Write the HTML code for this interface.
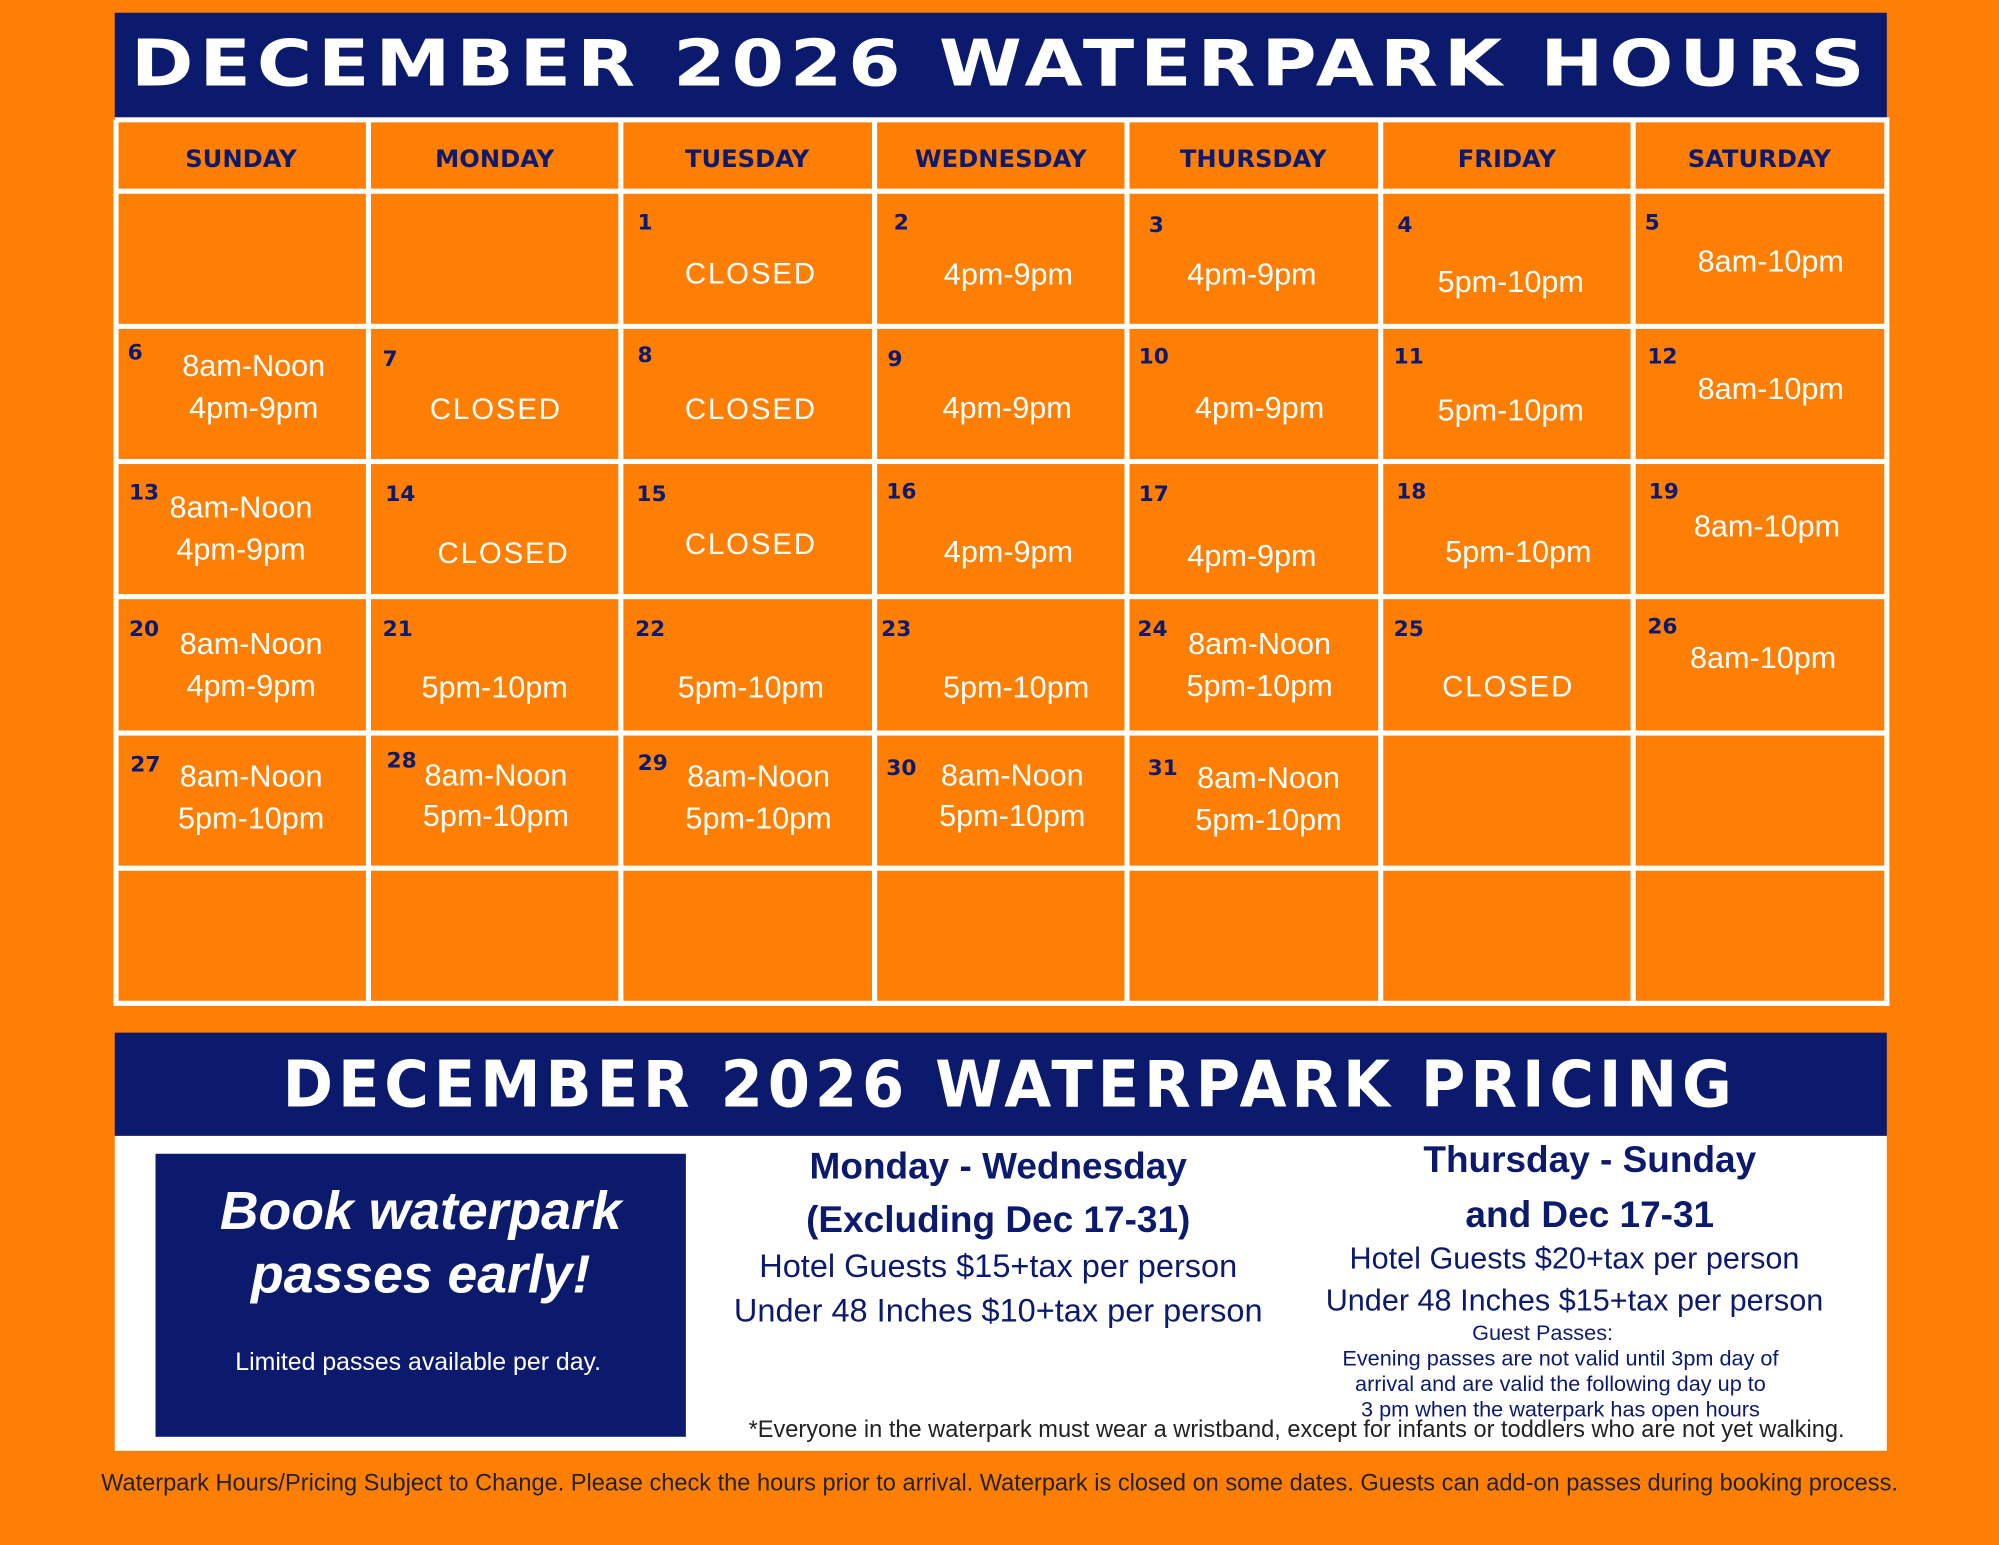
<!DOCTYPE html>
<html><head><meta charset="utf-8"><style>
html,body{margin:0;padding:0;width:1999px;height:1545px;overflow:hidden;background:#FE7F03;}
#w{position:absolute;left:0;top:0;width:1568px;height:1212px;transform:scale(1.27487);transform-origin:0 0;font-family:"Liberation Sans",sans-serif;}
.a{position:absolute;white-space:nowrap;transform:translate(-50%,-50%);}
.t{color:#fff;font-size:24px;line-height:1;}
.c{font-size:23px;letter-spacing:1.5px}
.n{color:#0C1A6E;font-weight:bold;font-size:17px;font-family:"DejaVu Sans",sans-serif;}
.h{color:#0C1A6E;font-weight:bold;font-size:19px;font-family:"DejaVu Sans",sans-serif;}
.ban{position:absolute;left:90px;width:1390px;background:#0C1A6E;}
.title{color:#fff;font-family:"DejaVu Sans",sans-serif;font-weight:900;font-size:50px;letter-spacing:4px;}
.cond{font-family:"Liberation Sans",sans-serif;}
.v{position:absolute;width:4px;background:#fff;top:94px;height:695px}
.hl{position:absolute;height:4px;background:#fff;left:90px;width:1392px}
.nv{color:#0C1A6E}
</style></head><body><div id="w">
<div class="ban" style="top:10px;height:84px"></div>
<div class="a title" style="left:785px;top:50px;transform:translate(-50%,-50%) scaleX(1.18)">DECEMBER 2026 WATERPARK HOURS</div>
<div class="v" style="left:89px"></div><div class="v" style="left:287px"></div><div class="v" style="left:485px"></div><div class="v" style="left:684px"></div><div class="v" style="left:882px"></div><div class="v" style="left:1081px"></div><div class="v" style="left:1279px"></div><div class="v" style="left:1478px"></div>
<div class="hl" style="top:92px"></div><div class="hl" style="top:148px"></div><div class="hl" style="top:254px"></div><div class="hl" style="top:360px"></div><div class="hl" style="top:466px"></div><div class="hl" style="top:573px"></div><div class="hl" style="top:679px"></div><div class="hl" style="top:785px"></div>
<div class="a h" style="left:189px;top:125px">SUNDAY</div><div class="a h" style="left:388px;top:125px">MONDAY</div><div class="a h" style="left:586px;top:125px">TUESDAY</div><div class="a h" style="left:785px;top:125px">WEDNESDAY</div><div class="a h" style="left:983px;top:125px">THURSDAY</div><div class="a h" style="left:1182px;top:125px">FRIDAY</div><div class="a h" style="left:1380px;top:125px">SATURDAY</div>

<div class="a n" style="left:506px;top:175px">1</div><div class="a t c" style="left:589px;top:215px">CLOSED</div>
<div class="a n" style="left:707px;top:175px">2</div><div class="a t" style="left:791px;top:216px">4pm-9pm</div>
<div class="a n" style="left:907px;top:177px">3</div><div class="a t" style="left:982px;top:216px">4pm-9pm</div>
<div class="a n" style="left:1102px;top:177px">4</div><div class="a t" style="left:1185px;top:222px">5pm-10pm</div>
<div class="a n" style="left:1296px;top:175px">5</div><div class="a t" style="left:1389px;top:206px">8am-10pm</div>

<div class="a n" style="left:106px;top:277px">6</div><div class="a t" style="left:199px;top:288px">8am-Noon</div><div class="a t" style="left:199px;top:321px">4pm-9pm</div>
<div class="a n" style="left:306px;top:282px">7</div><div class="a t c" style="left:389px;top:321px">CLOSED</div>
<div class="a n" style="left:506px;top:279px">8</div><div class="a t c" style="left:589px;top:321px">CLOSED</div>
<div class="a n" style="left:702px;top:282px">9</div><div class="a t" style="left:790px;top:321px">4pm-9pm</div>
<div class="a n" style="left:905px;top:280px">10</div><div class="a t" style="left:988px;top:321px">4pm-9pm</div>
<div class="a n" style="left:1105px;top:280px">11</div><div class="a t" style="left:1185px;top:323px">5pm-10pm</div>
<div class="a n" style="left:1304px;top:280px">12</div><div class="a t" style="left:1389px;top:306px">8am-10pm</div>

<div class="a n" style="left:113px;top:387px">13</div><div class="a t" style="left:189px;top:399px">8am-Noon</div><div class="a t" style="left:189px;top:432px">4pm-9pm</div>
<div class="a n" style="left:314px;top:388px">14</div><div class="a t c" style="left:395px;top:434px">CLOSED</div>
<div class="a n" style="left:511px;top:388px">15</div><div class="a t c" style="left:589px;top:427px">CLOSED</div>
<div class="a n" style="left:707px;top:386px">16</div><div class="a t" style="left:791px;top:434px">4pm-9pm</div>
<div class="a n" style="left:905px;top:388px">17</div><div class="a t" style="left:982px;top:437px">4pm-9pm</div>
<div class="a n" style="left:1107px;top:386px">18</div><div class="a t" style="left:1191px;top:434px">5pm-10pm</div>
<div class="a n" style="left:1305px;top:386px">19</div><div class="a t" style="left:1386px;top:414px">8am-10pm</div>

<div class="a n" style="left:113px;top:494px">20</div><div class="a t" style="left:197px;top:506px">8am-Noon</div><div class="a t" style="left:197px;top:539px">4pm-9pm</div>
<div class="a n" style="left:312px;top:494px">21</div><div class="a t" style="left:388px;top:540px">5pm-10pm</div>
<div class="a n" style="left:510px;top:494px">22</div><div class="a t" style="left:589px;top:540px">5pm-10pm</div>
<div class="a n" style="left:703px;top:494px">23</div><div class="a t" style="left:797px;top:540px">5pm-10pm</div>
<div class="a n" style="left:904px;top:494px">24</div><div class="a t" style="left:988px;top:506px">8am-Noon</div><div class="a t" style="left:988px;top:539px">5pm-10pm</div>
<div class="a n" style="left:1105px;top:494px">25</div><div class="a t c" style="left:1183px;top:539px">CLOSED</div>
<div class="a n" style="left:1304px;top:492px">26</div><div class="a t" style="left:1383px;top:517px">8am-10pm</div>

<div class="a n" style="left:114px;top:600px">27</div><div class="a t" style="left:197px;top:610px">8am-Noon</div><div class="a t" style="left:197px;top:643px">5pm-10pm</div>
<div class="a n" style="left:315px;top:597px">28</div><div class="a t" style="left:389px;top:609px">8am-Noon</div><div class="a t" style="left:389px;top:641px">5pm-10pm</div>
<div class="a n" style="left:512px;top:599px">29</div><div class="a t" style="left:595px;top:610px">8am-Noon</div><div class="a t" style="left:595px;top:643px">5pm-10pm</div>
<div class="a n" style="left:707px;top:603px">30</div><div class="a t" style="left:794px;top:609px">8am-Noon</div><div class="a t" style="left:794px;top:641px">5pm-10pm</div>
<div class="a n" style="left:912px;top:603px">31</div><div class="a t" style="left:995px;top:611px">8am-Noon</div><div class="a t" style="left:995px;top:644px">5pm-10pm</div>

<div class="ban" style="top:810px;height:81px"></div>
<div class="a title" style="left:792px;top:851px;transform:translate(-50%,-50%) scaleX(0.953)">DECEMBER 2026 WATERPARK PRICING</div>
<div style="position:absolute;left:90px;top:891px;width:1390px;height:247px;background:#fff"></div>
<div style="position:absolute;left:122px;top:905px;width:416px;height:222px;background:#0C1A6E"></div>
<div class="a cond" style="left:330px;top:950px;color:#fff;font-size:42px;font-weight:bold;font-style:italic">Book waterpark</div>
<div class="a cond" style="left:330px;top:1000px;color:#fff;font-size:42px;font-weight:bold;font-style:italic">passes early!</div>
<div class="a" style="left:328px;top:1069px;color:#fff;font-size:19.5px">Limited passes available per day.</div>

<div class="a cond nv" style="left:783px;top:916px;font-size:29px;font-weight:bold">Monday - Wednesday</div>
<div class="a cond nv" style="left:783px;top:958px;font-size:29px;font-weight:bold">(Excluding Dec 17-31)</div>
<div class="a nv" style="left:783px;top:994px;font-size:25.5px">Hotel Guests $15+tax per person</div>
<div class="a nv" style="left:783px;top:1029px;font-size:25.5px">Under 48 Inches $10+tax per person</div>

<div class="a cond nv" style="left:1247px;top:911px;font-size:29px;font-weight:bold">Thursday - Sunday</div>
<div class="a cond nv" style="left:1247px;top:954px;font-size:29px;font-weight:bold">and Dec 17-31</div>
<div class="a nv" style="left:1235px;top:988px;font-size:24px">Hotel Guests $20+tax per person</div>
<div class="a nv" style="left:1235px;top:1021px;font-size:24px">Under 48 Inches $15+tax per person</div>
<div class="a nv" style="left:1210px;top:1046px;font-size:17px">Guest Passes:</div>
<div class="a nv" style="left:1224px;top:1066px;font-size:17px">Evening passes are not valid until 3pm day of</div>
<div class="a nv" style="left:1224px;top:1086px;font-size:17px">arrival and are valid the following day up to</div>
<div class="a nv" style="left:1224px;top:1106px;font-size:17px">3 pm when the waterpark has open hours</div>
<div class="a" style="left:1017px;top:1121px;font-size:18.5px;color:#222">*Everyone in the waterpark must wear a wristband, except for infants or toddlers who are not yet walking.</div>
<div class="a" style="left:784px;top:1163px;font-size:18.5px;color:#222">Waterpark Hours/Pricing Subject to Change. Please check the hours prior to arrival. Waterpark is closed on some dates. Guests can add-on passes during booking process.</div>
</div></body></html>
